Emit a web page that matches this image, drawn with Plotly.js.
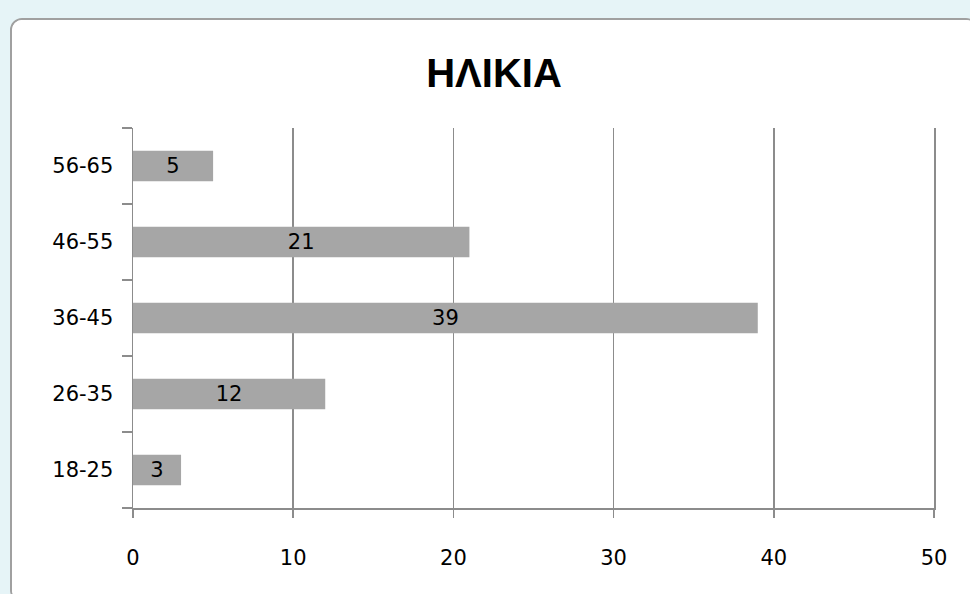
<!DOCTYPE html>
<html>
<head>
<meta charset="utf-8">
<script src="https://cdn.plot.ly/plotly-3.0.1.min.js"></script>
<style>
  html, body { margin: 0; padding: 0; }
  body { width: 970px; height: 594px; background: #e6f4f7; position: relative; overflow: hidden; }
  #frame { position: absolute; left: 10px; top: 18px; width: 964px; height: 580px;
           border: 2px solid #a0a0a0; border-radius: 12px; background: #ffffff; overflow: hidden; }
  #chart { width: 964px; height: 580px; }
</style>
</head>
<body>
<div id="frame"><div id="chart"></div></div>
<script>
const categories = ["18-25", "26-35", "36-45", "46-55", "56-65"];
const values = [3, 12, 39, 21, 5];
const xTicks = [0, 10, 20, 30, 40, 50];
const chartTitle = "ΗΛΙΚΙΑ";

const fontFam = "DejaVu Sans, Tahoma, sans-serif";

const trace = {
  type: "bar",
  orientation: "h",
  y: categories,
  x: values,
  text: values.map(String),
  textposition: "inside",
  insidetextanchor: "middle",
  textangle: 0,
  textfont: { family: fontFam, size: 21, color: "#000000" },
  marker: { color: "#a6a6a6", line: { width: 0 } },
  hoverinfo: "none",
  cliponaxis: false
};

const layout = {
  width: 964,
  height: 580,
  margin: { l: 121, r: 42, t: 108, b: 92 },
  paper_bgcolor: "#ffffff",
  plot_bgcolor: "#ffffff",
  showlegend: false,
  bargap: 0.6,
  title: {
    text: "<b>" + chartTitle + "</b>",
    font: { family: "Liberation Sans, Arial, sans-serif", size: 40, color: "#000000" },
    x: 0.5, xanchor: "center",
    y: 1 - 53 / 580, yanchor: "middle", yref: "container"
  },
  xaxis: {
    range: [0, 50],
    tickvals: xTicks,
    ticktext: xTicks.map(String),
    showgrid: true,
    gridcolor: "#8c8c8c",
    gridwidth: 1.5,
    zeroline: false,
    showline: true,
    linecolor: "#8c8c8c",
    linewidth: 1.5,
    ticks: "outside",
    ticklen: 8,
    tickwidth: 1.5,
    tickcolor: "#8c8c8c",
    ticklabelstandoff: 22,
    tickfont: { family: fontFam, size: 21, color: "#000000" },
    fixedrange: true
  },
  yaxis: {
    type: "category",
    categoryorder: "array",
    categoryarray: categories,
    showgrid: false,
    zeroline: false,
    showline: true,
    mirror: true,
    linecolor: "#8c8c8c",
    linewidth: 1.5,
    ticks: "outside",
    tickson: "boundaries",
    ticklen: 10,
    tickwidth: 1.5,
    tickcolor: "#8c8c8c",
    ticklabelstandoff: 14,
    tickfont: { family: fontFam, size: 21, color: "#000000" },
    fixedrange: true
  }
};

Plotly.newPlot("chart", [trace], layout, { displayModeBar: false, staticPlot: true });
</script>
</body>
</html>
